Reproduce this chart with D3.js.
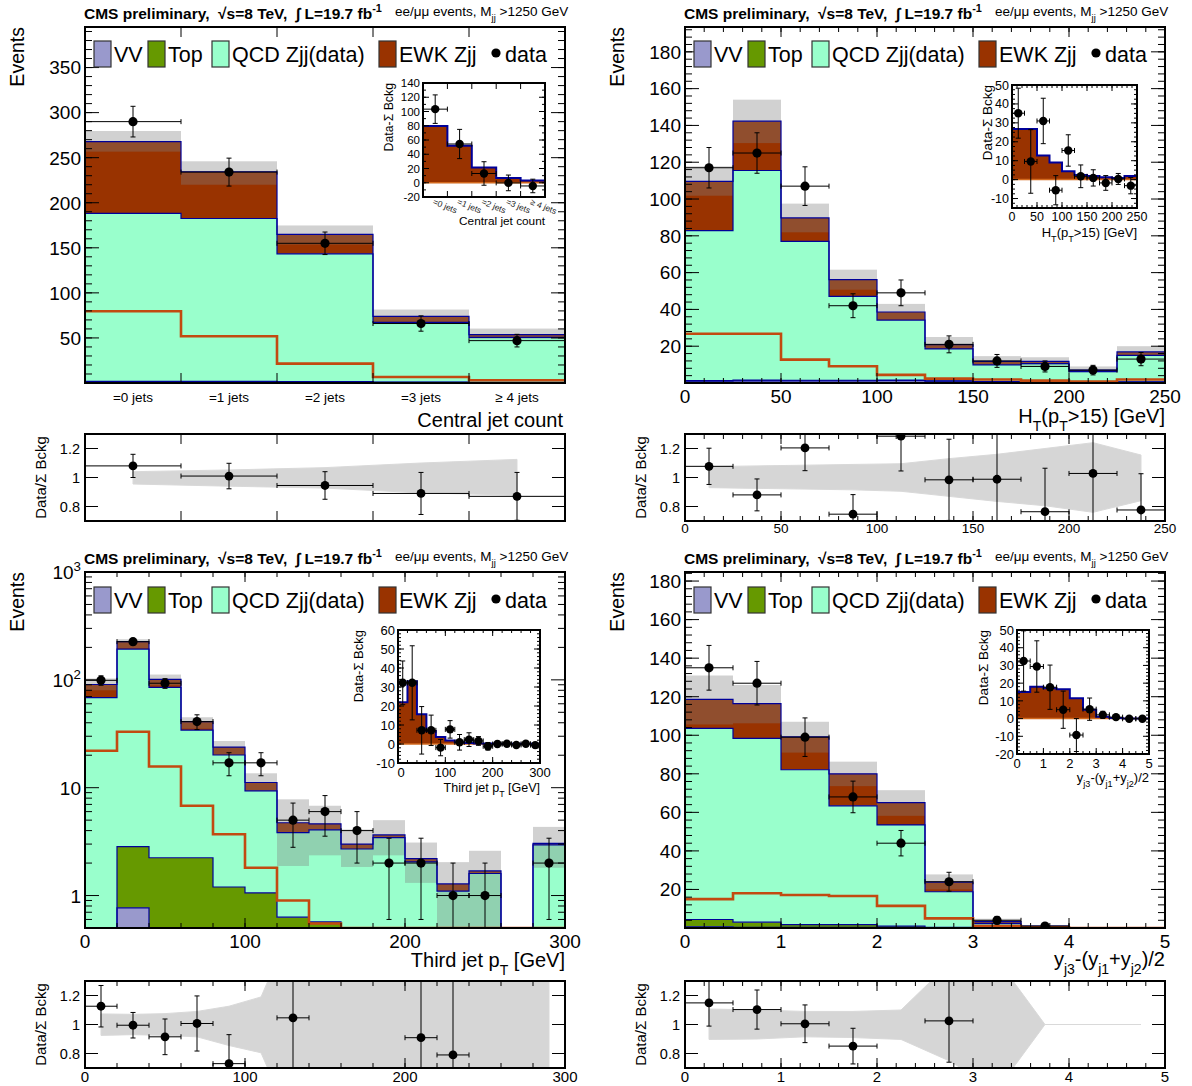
<!DOCTYPE html>
<html>
<head>
<meta charset="utf-8">
<title>EWK Zjj control distributions</title>
<script src="https://cdn.jsdelivr.net/npm/d3@7"></script>
<style>
  body { margin: 0; background: #fff; }
  svg text { font-family: "Liberation Sans", Arial, Helvetica, sans-serif; }
</style>
</head>
<body>
<div id="chart"></div>
<script>
// ---------- central jet count ----------
const jetCats = ["=0 jets", "=1 jets", "=2 jets", "=3 jets", "\u2265 4 jets"];
const jetEdges = [0, 1, 2, 3, 4, 5];
const jetVV = [1.5, 1.5, 1.2, 0.8, 0.5];
const jetTop = [0.3, 0.3, 0.3, 0.2, 0.1];
const jetQCD = [186.4, 180.7, 141.8, 66.3, 50.1];
const jetEWK = [79.6, 51.9, 21.5, 6.7, 3.0];
const jetBandLo = [256.7, 220, 153.7, 67.8, 48.5];
const jetBandHi = [279.6, 246, 174.8, 81.5, 60.4];
const jetData = [290, 234, 155, 66, 47];
const jetErr = [17, 15.5, 12.5, 8.5, 7];
const jetDiff = [103.3, 54.4, 13, -0.2, -4.5];
const jetDiffErr = [20, 20.5, 16.5, 11, 9.5];
const jetRatio = [1.08, 1.01, 0.945, 0.89, 0.87];
const jetRatioErr = [0.08, 0.088, 0.095, 0.145, 0.165];
const jetRatioLo = [0.955, 0.94, 0.927, 0.894, 0.878];
const jetRatioHi = [1.04, 1.052, 1.068, 1.10, 1.125];

// ---------- HT(pT>15) ----------
const htEdges = [0, 25, 50, 75, 100, 125, 150, 175, 200, 225, 250];
const htVV = [1.0, 1.2, 1.2, 1.2, 1.3, 1.0, 0.6, 0.5, 0.3, 0.5];
const htTop = [0.3, 0.4, 0.3, 0.3, 0.3, 0.2, 0.1, 0.1, 0.1, 0.1];
const htQCD = [81.5, 113.9, 75.5, 45.6, 32.6, 17.3, 9.2, 9.9, 5.8, 14.4];
const htEWK = [26.8, 26.8, 12.7, 9.1, 4.4, 2.4, 1.9, 1.3, 0.8, 1.9];
const htBandLo = [101.8, 130.4, 81.9, 50.7, 34.4, 18.5, 10, 9.5, 5.8, 14.6];
const htBandHi = [117.8, 154, 97.5, 61.6, 43, 25, 14.6, 14, 9, 20];
const htData = [117, 125, 107, 42, 49, 21, 12, 9, 7, 13];
const htErr = [11, 11, 10.5, 6.5, 7, 4.6, 3.5, 3, 2.6, 3.6];
const htDiff = [35.1, 9.6, 31, -5.6, 15.4, 1.75, 0.9, -1.75, 0.35, -3.2];
const htDiffErr = [13.2, 16.8, 12, 7.7, 8.3, 6, 4.3, 3.9, 2.9, 4.3];
const htRatio = [1.077, 0.88, 1.204, 0.747, 1.285, 0.984, 0.988, 0.764, 1.028, 0.776];
const htRatioErr = [0.125, 0.11, 0.157, 0.135, 0.24, 0.28, 0.34, 0.3, 0.36, 0.25];
const htRatioLo = [0.93, 0.925, 0.92, 0.915, 0.905, 0.87, 0.835, 0.805, 0.76, 0.84];
const htRatioHi = [1.075, 1.08, 1.085, 1.09, 1.095, 1.13, 1.16, 1.2, 1.24, 1.155];

// ---------- third jet pT ----------
const ptEdges = [0, 20, 40, 60, 80, 100, 120, 140, 160, 180, 200, 220, 240, 260, 280, 300];
const ptVV = [0, 0.77, 0, 0, 0, 0, 0, 0, 0, 0, 0, 0, 0, 0, 0];
const ptTop = [0.3, 2.07, 2.24, 2.24, 1.2, 1.06, 0.63, 0.57, 0.1, 0, 0, 0, 0, 0, 0];
const ptQCD = [68.2, 190, 83, 32, 18.9, 8.3, 3.2, 3.5, 2.6, 3.45, 2.05, 1.1, 1.6, 0, 2.95];
const ptEWK = [22, 33, 15.7, 6.8, 3.7, 1.81, 0.9, 0.55, 0.3, 0.2, 0.15, 0.18, 0.09, 0, 0.1];
const ptBandLo = [80, 196, 89, 35.3, 20.1, 9.25, 1.88, 2.36, 1.84, 2.36, 1.31, 0.3, 0.3, null, 1.81];
const ptBandHi = [103, 238, 112, 45, 27.1, 13.6, 7.8, 6.8, 4.1, 5.0, 3.1, 2.04, 2.6, null, 4.33];
const ptData = [99, 226, 93, 41, 17, 17, 5, 6, 4, 2, 2, 1, 1, 0, 2];
const ptErr = [10, 15, 9.6, 6.4, 4.1, 4.1, 2.2, 2.45, 2, 1.4, 1.4, 1, 1, 0, 1.4];
const ptDiff = [32.2, 32.2, 7.2, 7.2, -1.9, 7.7, 0.9, 2.3, 1.6, -1.2, 0, 0.1, -0.5, 0.1, -0.6];
const ptDiffErr = [11.5, 19.5, 12.5, 8, 4.3, 4.6, 4.1, 3.6, 2.3, 2, 1.4, 1, 1, 0, 1.4];
const ptRatio = [1.126, 0.995, 0.915, 1.007, 0.73, 1.52, 1.046, 1.34, 1.36, 0.55, 0.909, 0.79, 0.59, null, 0.65];
const ptRatioErr = [0.143, 0.088, 0.123, 0.19, 0.2, 0.38, 0.5, 0.5, 0.6, 0.4, 0.65, 0.8, 0.6, null, 0.5];
const ptRatioLo = [0.925, 0.93, 0.925, 0.915, 0.855, 0.805, 0.3, 0.3, 0.3, 0.3, 0.3, 0.3, 0.3, 0.3, 0.3];
const ptRatioHi = [1.073, 1.07, 1.075, 1.09, 1.126, 1.19, 1.7, 1.7, 1.7, 1.7, 1.7, 1.7, 1.7, 1.7, 1.7];

// ---------- y_j3 - (y_j1+y_j2)/2 ----------
const dyEdges = [0, 0.5, 1, 1.5, 2, 2.5, 3, 3.5, 4, 4.5, 5];
const dyVV = [0.6, 0.4, 0.3, 0.3, 0.2, 0.1, 0, 0, 0, 0];
const dyTop = [3.8, 2.6, 1.5, 1.5, 0.8, 0.2, 0.1, 0, 0, 0];
const dyQCD = [99.2, 95.4, 80.3, 61.6, 52.5, 18.5, 2.2, 0.7, 0, 0];
const dyEWK = [15, 18, 17.1, 16.6, 11.5, 5.0, 1.0, 0.3, 0, 0];
const dyBandLo = [105.6, 106.2, 91, 73.6, 58.2, 20, 2.3, 0.6, null, null];
const dyBandHi = [131, 126.1, 107, 86.3, 71.5, 27.8, 4.8, 1.4, null, null];
const dyData = [135, 127, 99, 68, 44, 24, 4, 1, 0, 0];
const dyErr = [11.6, 11.3, 10, 8.2, 6.6, 4.9, 2, 1, 0, 0];
const dyDiff = [32.5, 29.4, 17.7, 5, -9.3, 5.3, 2.1, 0.8, -0.1, -0.1];
const dyDiffErr = [17, 14.5, 12.5, 10.5, 9.3, 6.3, 2, 1, 0.3, 0.3];
const dyRatio = [1.149, 1.103, 1.005, 0.851, 0.68, 1.025, null, null, null, null];
const dyRatioErr = [0.16, 0.135, 0.13, 0.123, 0.1, 0.285, null, null, null, null];
const dyRatioLo = [0.897, 0.9, 0.915, 0.91, 0.897, 0.75, 0.55, 1, 1, 1];
const dyRatioHi = [1.107, 1.1, 1.09, 1.09, 1.1, 1.42, 1.45, 1, 1, 1];

// colours
const LAV = "#9999cc", GREEN = "#669900", MINT = "#99ffcc", BROWN = "#993300";
const NAVY = "#000099", EWKLINE = "#c24a10";

const svg = d3.select("#chart").append("svg")
  .attr("width", 1192).attr("height", 1086);
const defs = svg.append("defs");
let nclip = 0;

function clipRect(x0, y0, x1, y1) {
  const id = "clip" + (nclip++);
  defs.append("clipPath").attr("id", id).append("rect")
    .attr("x", x0).attr("y", y0).attr("width", x1 - x0).attr("height", y1 - y0);
  return "url(#" + id + ")";
}

// text with sub/superscripts
function rich(parent, x, y, segs, size, anchor) {
  const t = parent.append("text").attr("x", x).attr("y", y)
    .attr("font-size", size).attr("text-anchor", anchor || "start");
  let shift = 0;
  segs.forEach(s => {
    const sp = t.append("tspan").text(s.t);
    const target = s.sub ? size * 0.38 : s.sup ? -size * 0.42 : 0;
    if (target !== shift) { sp.attr("dy", target - shift); shift = target; }
    if (s.sub || s.sup) sp.attr("font-size", size * 0.7);
  });
  return t;
}

function frame(g, x0, y0, x1, y1) {
  g.append("rect").attr("x", x0).attr("y", y0).attr("width", x1 - x0).attr("height", y1 - y0)
    .attr("fill", "none").attr("stroke", "#000").attr("stroke-width", 2);
}

// inward ticks on all four sides
function ticks(g, x0, y0, x1, y1, xt, yt) {
  const segs = [];
  xt.forEach(([px, len]) => { segs.push([px, y1, px, y1 - len], [px, y0, px, y0 + len]); });
  yt.forEach(([py, len]) => { segs.push([x0, py, x0 + len, py], [x1, py, x1 - len, py]); });
  g.append("g").selectAll("line").data(segs).join("line")
    .attr("x1", d => d[0]).attr("y1", d => d[1]).attr("x2", d => d[2]).attr("y2", d => d[3])
    .attr("stroke", "#000").attr("stroke-width", 1);
}
const tk = (scale, vals, len, dom) => vals
  .filter(v => v > dom[0] + 1e-9 && v < dom[1] - 1e-9).map(v => [scale(v), len]);

function drawPoints(g, x, y, edges, vals, errs, r, keep) {
  const pts = vals.map((v, i) => ({v, e: errs[i], a: edges[i], b: edges[i + 1]}))
    .filter(d => d.v != null && keep(d.v));
  const segs = [];
  pts.forEach(d => {
    const cx = x((d.a + d.b) / 2), cy = y(d.v), ya = y(d.v + d.e), yb = y(d.v - d.e);
    const xa = x(d.a), xb = x(d.b);
    segs.push([xa, cy, xb, cy], [cx, ya, cx, yb],
      [cx - 2.5, ya, cx + 2.5, ya], [cx - 2.5, yb, cx + 2.5, yb],
      [xa, cy - 2.5, xa, cy + 2.5], [xb, cy - 2.5, xb, cy + 2.5]);
  });
  g.append("g").selectAll("line").data(segs).join("line")
    .attr("x1", d => d[0]).attr("y1", d => d[1]).attr("x2", d => d[2]).attr("y2", d => d[3])
    .attr("stroke", "#000").attr("stroke-width", 1);
  g.append("g").selectAll("circle").data(pts).join("circle")
    .attr("cx", d => x((d.a + d.b) / 2)).attr("cy", d => y(d.v)).attr("r", r).attr("fill", "#000");
}

function stepPts(edges, lo, hi) {
  const n = edges.length - 1;
  const pts = hi.map((h, i) => ({e: edges[i], lo: lo[i], hi: h}));
  pts.push({e: edges[n], lo: lo[n - 1], hi: hi[n - 1]});
  return pts;
}

function drawMain(p) {
  const x = d3.scaleLinear().domain(p.xDom).range([p.x0, p.x1]);
  const y = (p.log ? d3.scaleLog() : d3.scaleLinear()).domain(p.yDom).range([p.y1, p.y0]);
  const yc = v => y(Math.max(v, p.yDom[0]));
  const g = svg.append("g");
  const inner = g.append("g").attr("clip-path", clipRect(p.x0, p.y0, p.x1, p.y1));
  const n = p.edges.length - 1;
  const rows = d3.range(n).map(i => ({vv: p.vv[i], top: p.top[i], qcd: p.qcd[i], ewk: p.ewk[i]}));
  const series = d3.stack().keys(["vv", "top", "qcd", "ewk"])(rows);
  const fills = {vv: LAV, top: GREEN, qcd: MINT, ewk: BROWN};
  const area = d3.area().curve(d3.curveStepAfter).x(d => x(d.e)).y0(d => yc(d.lo)).y1(d => yc(d.hi));
  const line = d3.line().curve(d3.curveStepAfter).x(d => x(d.e)).y(d => yc(d.hi));
  const pts = s => stepPts(p.edges, s.map(d => d[0]), s.map(d => d[1]));

  inner.selectAll("path.layer").data(series).join("path").attr("class", "layer")
    .attr("d", s => area(pts(s))).attr("fill", s => fills[s.key]);

  // systematic band
  const band = p.lo.map((l, i) => ({i, l, h: p.hi[i]})).filter(d => d.l != null);
  inner.selectAll("rect.band").data(band).join("rect").attr("class", "band")
    .attr("x", d => x(p.edges[d.i])).attr("width", d => x(p.edges[d.i + 1]) - x(p.edges[d.i]))
    .attr("y", d => yc(d.h)).attr("height", d => yc(d.l) - yc(d.h))
    .attr("fill", "#808080").attr("fill-opacity", 0.36);

  inner.selectAll("path.outline").data(series).join("path").attr("class", "outline")
    .attr("d", s => line(pts(s))).attr("fill", "none").attr("stroke", NAVY).attr("stroke-width", 1.2);

  // EWK alone
  inner.append("path").attr("d", line(stepPts(p.edges, p.ewk, p.ewk)))
    .attr("fill", "none").attr("stroke", EWKLINE).attr("stroke-width", 2.6);

  drawPoints(inner, x, yc, p.edges, p.data, p.err, 4.6, v => v > 0);
  frame(g, p.x0, p.y0, p.x1, p.y1);
  return {g, x, y};
}

function drawRatio(p) {
  const x = d3.scaleLinear().domain(p.xDom).range([p.x0, p.x1]);
  const y = d3.scaleLinear().domain([0.7, 1.3]).range([p.y1, p.y0]);
  const g = svg.append("g");
  const inner = g.append("g").attr("clip-path", clipRect(p.x0, p.y0, p.x1, p.y1));
  const cen = p.lo.map((l, i) => ({c: (p.edges[i] + p.edges[i + 1]) / 2, l, h: p.hi[i]}));
  inner.append("path")
    .attr("d", d3.area().x(d => x(d.c)).y0(d => y(d.l)).y1(d => y(d.h))(cen))
    .attr("fill", "#d6d6d6").attr("stroke", "#d9d9d9").attr("stroke-width", 1);
  drawPoints(inner, x, y, p.edges, p.vals, p.errs, 4.4, v => v >= 0.7 && v <= 1.3);
  frame(g, p.x0, p.y0, p.x1, p.y1);
  ticks(g, p.x0, p.y0, p.x1, p.y1,
    p.xMaj.map(v => [x(v), 10]).concat((p.xMin || []).map(v => [x(v), 5])),
    [0.8, 1.0, 1.2].map(v => [y(v), 13]));
  g.selectAll("text.yl").data([0.8, 1.0, 1.2]).join("text").attr("class", "yl")
    .attr("x", p.x0 - 5).attr("y", v => y(v)).attr("dy", "0.36em").attr("text-anchor", "end")
    .attr("font-size", 14.5).text(v => d3.format("~g")(v));
  if (p.xLab) {
    g.selectAll("text.xl").data(p.xLab).join("text").attr("class", "xl")
      .attr("x", v => x(v)).attr("y", p.y1 + p.xLabDy).attr("text-anchor", "middle")
      .attr("font-size", p.xLabSize).text(v => v);
  }
  g.append("text").attr("transform", `translate(${p.x0 - 39},${(p.y0 + p.y1) / 2}) rotate(-90)`)
    .attr("text-anchor", "middle").attr("font-size", 15).text("Data/\u03A3 Bckg");
}

function drawInset(p) {
  const x = d3.scaleLinear().domain(p.xDom).range([p.x0, p.x1]);
  const y = d3.scaleLinear().domain(p.yDom).range([p.y1, p.y0]);
  const g = svg.append("g");
  g.append("rect").attr("x", p.x0).attr("y", p.y0).attr("width", p.x1 - p.x0).attr("height", p.y1 - p.y0)
    .attr("fill", "#fff");
  const inner = g.append("g").attr("clip-path", clipRect(p.x0, p.y0, p.x1, p.y1));
  const zeros = p.ewk.map(() => 0);
  const pts = stepPts(p.edges, zeros, p.ewk);
  inner.append("path")
    .attr("d", d3.area().curve(d3.curveStepAfter).x(d => x(d.e)).y0(d => y(d.lo)).y1(d => y(d.hi))(pts))
    .attr("fill", BROWN);
  inner.append("line").attr("x1", p.x0).attr("x2", p.x1).attr("y1", y(0)).attr("y2", y(0))
    .attr("stroke", "#d2691e").attr("stroke-width", 1.5);
  inner.append("path")
    .attr("d", d3.line().curve(d3.curveStepAfter).x(d => x(d.e)).y(d => y(d.hi))(pts))
    .attr("fill", "none").attr("stroke", NAVY).attr("stroke-width", 2);
  drawPoints(inner, x, y, p.edges, p.diff, p.derr, 4.2, () => true);
  frame(g, p.x0, p.y0, p.x1, p.y1);
  ticks(g, p.x0, p.y0, p.x1, p.y1,
    tk(x, p.xMaj, 6, p.xDom).concat(tk(x, p.xMin || [], 3, p.xDom)),
    tk(y, p.yMaj, 6, p.yDom).concat(tk(y, p.yMin || [], 3, p.yDom)));
  g.selectAll("text.yl").data(p.yLab).join("text").attr("class", "yl")
    .attr("x", p.x0 - 3).attr("y", v => y(v)).attr("dy", "0.36em").attr("text-anchor", "end")
    .attr("font-size", p.fs).text(v => v);
  if (p.cats) {
    g.selectAll("text.xl").data(p.cats).join("text").attr("class", "xl")
      .attr("transform", (c, i) => `translate(${x(i + 0.5) - 3},${p.y1 + 7}) rotate(22)`)
      .attr("font-size", 8.5).attr("fill", "#222").text(c => c);
  } else {
    g.selectAll("text.xl").data(p.xLab).join("text").attr("class", "xl")
      .attr("x", v => x(v) + (p.xLabShift ? p.xLabShift(v) : 0)).attr("y", p.y1 + p.xLabDy)
      .attr("text-anchor", "middle").attr("font-size", p.fs).text(v => v);
  }
  rich(g, p.x1, p.titleY, p.title, p.tfs, "end");
  g.append("text").attr("transform", `translate(${p.ytX},${p.y0}) rotate(-90)`)
    .attr("text-anchor", "end").attr("font-size", p.tfs + 0.5).text("Data-\u03A3 Bckg");
}

function header(x0, y0) {
  rich(svg, x0 - 1, y0 - 8,
    [{t: "CMS preliminary,  \u221As=8 TeV,  \u222B L=19.7 fb"}, {t: "-1", sup: true}], 15.5, "start")
    .attr("font-weight", "bold").style("white-space", "pre");
  rich(svg, x0 + 310, y0 - 11,
    [{t: "ee/\u03BC\u03BC events, M"}, {t: "jj", sub: true}, {t: " >1250 GeV"}], 13.5, "start");
  svg.append("text").attr("transform", `translate(${x0 - 61},${y0}) rotate(-90)`)
    .attr("text-anchor", "end").attr("font-size", 19.5).text("Events");
}

function legend(x0, cy) {
  const g = svg.append("g");
  const items = [
    {dx: 9, c: LAV, t: "VV"}, {dx: 63, c: GREEN, t: "Top"},
    {dx: 127, c: MINT, t: "QCD Zjj(data)"}, {dx: 294, c: BROWN, t: "EWK Zjj"}];
  g.selectAll("rect").data(items).join("rect")
    .attr("x", d => x0 + d.dx).attr("y", cy - 13).attr("width", 17).attr("height", 26)
    .attr("fill", d => d.c).attr("stroke", "#333").attr("stroke-width", 1.2);
  g.selectAll("text").data(items.concat([{dx: 400, t: "data"}])).join("text")
    .attr("x", d => x0 + d.dx + 20).attr("y", cy).attr("dy", "0.36em")
    .attr("font-size", 21.5).text(d => d.t);
  g.append("circle").attr("cx", x0 + 411).attr("cy", cy - 1).attr("r", 4.6).attr("fill", "#000");
}

const L0 = 85, L1 = 565, R0 = 685, R1 = 1165;
const T0 = 27, T1 = 383, TR0 = 434, TR1 = 521;
const B0 = 572, B1 = 928, BR0 = 981, BR1 = 1068;

// ================= top-left: central jet count =================
{
  const m = drawMain({x0: L0, x1: L1, y0: T0, y1: T1, xDom: [0, 5], yDom: [0, 395],
    edges: jetEdges, vv: jetVV, top: jetTop, qcd: jetQCD, ewk: jetEWK,
    lo: jetBandLo, hi: jetBandHi, data: jetData, err: jetErr});
  ticks(m.g, L0, T0, L1, T1, [1, 2, 3, 4].map(v => [m.x(v), 10]),
    tk(m.y, d3.range(50, 400, 50), 14, [0, 395]).concat(tk(m.y, d3.range(10, 400, 10), 7, [0, 395])));
  m.g.selectAll("text.yl").data(d3.range(50, 400, 50)).join("text").attr("class", "yl")
    .attr("x", L0 - 4).attr("y", v => m.y(v)).attr("dy", "0.36em").attr("text-anchor", "end")
    .attr("font-size", 19).text(v => v);
  m.g.selectAll("text.xl").data(jetCats).join("text").attr("class", "xl")
    .attr("x", (c, i) => m.x(i + 0.5)).attr("y", T1 + 19).attr("text-anchor", "middle")
    .attr("font-size", 13.5).text(c => c);
  rich(m.g, L1 - 2, T1 + 44, [{t: "Central jet count"}], 20, "end");
  header(L0, T0);
  legend(L0, 54);
  drawInset({x0: 423, x1: 545, y0: 83, y1: 197, xDom: [0, 5], yDom: [-20, 140],
    edges: jetEdges, ewk: jetEWK, diff: jetDiff, derr: jetDiffErr,
    xMaj: [1, 2, 3, 4], yMaj: d3.range(-20, 141, 20), yMin: d3.range(-20, 141, 10),
    yLab: d3.range(-20, 141, 20), fs: 11.5, cats: jetCats,
    title: [{t: "Central jet count"}], titleY: 225, tfs: 11.8, ytX: 393});
  drawRatio({x0: L0, x1: L1, y0: TR0, y1: TR1, xDom: [0, 5], edges: jetEdges,
    lo: jetRatioLo, hi: jetRatioHi, vals: jetRatio, errs: jetRatioErr, xMaj: [1, 2, 3, 4]});
}

// ================= top-right: HT =================
{
  const m = drawMain({x0: R0, x1: R1, y0: T0, y1: T1, xDom: [0, 250], yDom: [0, 193.5],
    edges: htEdges, vv: htVV, top: htTop, qcd: htQCD, ewk: htEWK,
    lo: htBandLo, hi: htBandHi, data: htData, err: htErr});
  ticks(m.g, R0, T0, R1, T1,
    tk(m.x, d3.range(0, 251, 50), 10, [0, 250]).concat(tk(m.x, d3.range(0, 251, 10), 5, [0, 250])),
    tk(m.y, d3.range(20, 200, 20), 14, [0, 193.5]).concat(tk(m.y, d3.range(4, 200, 4), 7, [0, 193.5])));
  m.g.selectAll("text.yl").data(d3.range(20, 181, 20)).join("text").attr("class", "yl")
    .attr("x", R0 - 4).attr("y", v => m.y(v)).attr("dy", "0.36em").attr("text-anchor", "end")
    .attr("font-size", 19).text(v => v);
  m.g.selectAll("text.xl").data(d3.range(0, 251, 50)).join("text").attr("class", "xl")
    .attr("x", v => m.x(v)).attr("y", T1 + 20).attr("text-anchor", "middle")
    .attr("font-size", 19).text(v => v);
  rich(m.g, R1, T1 + 40, [{t: "H"}, {t: "T", sub: true}, {t: "(p"}, {t: "T", sub: true}, {t: ">15) [GeV]"}], 20, "end");
  header(R0, T0);
  legend(R0, 54);
  drawInset({x0: 1012, x1: 1137, y0: 85, y1: 208, xDom: [0, 250], yDom: [-15, 50],
    edges: htEdges, ewk: htEWK, diff: htDiff, derr: htDiffErr,
    xMaj: d3.range(0, 251, 50), xMin: d3.range(0, 251, 10),
    yMaj: d3.range(-10, 51, 10), yMin: d3.range(-15, 51, 2.5),
    yLab: d3.range(-10, 51, 10), xLab: d3.range(0, 251, 50), xLabDy: 13, fs: 12.5,
    title: [{t: "H"}, {t: "T", sub: true}, {t: "(p"}, {t: "T", sub: true}, {t: ">15) [GeV]"}],
    titleY: 237, tfs: 13, ytX: 992});
  drawRatio({x0: R0, x1: R1, y0: TR0, y1: TR1, xDom: [0, 250], edges: htEdges,
    lo: htRatioLo, hi: htRatioHi, vals: htRatio, errs: htRatioErr,
    xMaj: [50, 100, 150, 200], xMin: d3.range(10, 250, 10),
    xLab: d3.range(0, 251, 50), xLabDy: 12, xLabSize: 13.5});
}

// ================= bottom-left: third jet pT (log) =================
{
  const m = drawMain({x0: L0, x1: L1, y0: B0, y1: B1, xDom: [0, 300], yDom: [0.5, 1000], log: true,
    edges: ptEdges, vv: ptVV, top: ptTop, qcd: ptQCD, ewk: ptEWK,
    lo: ptBandLo, hi: ptBandHi, data: ptData, err: ptErr});
  const minorLog = [0.6, 0.7, 0.8, 0.9].concat(...[1, 10, 100].map(d => d3.range(2, 10).map(k => k * d)));
  ticks(m.g, L0, B0, L1, B1,
    tk(m.x, [100, 200], 10, [0, 300]).concat(tk(m.x, d3.range(20, 300, 20), 5, [0, 300])),
    tk(m.y, [1, 10, 100], 14, [0.5, 1000]).concat(tk(m.y, minorLog, 7, [0.5, 1000])));
  const logLab = [{v: 1, b: "1"}, {v: 10, b: "10"}, {v: 100, b: "10", s: "2"}, {v: 1000, b: "10", s: "3"}];
  logLab.forEach(d => {
    const segs = [{t: d.b}];
    if (d.s) segs.push({t: d.s, sup: true});
    rich(m.g, L0 - 4, m.y(d.v) + 7, segs, 19, "end");
  });
  m.g.selectAll("text.xl").data([0, 100, 200, 300]).join("text").attr("class", "xl")
    .attr("x", v => m.x(v)).attr("y", B1 + 20).attr("text-anchor", "middle")
    .attr("font-size", 19).text(v => v);
  rich(m.g, L1, B1 + 39, [{t: "Third jet p"}, {t: "T", sub: true}, {t: " [GeV]"}], 20, "end");
  header(L0, B0);
  legend(L0, 600);
  drawInset({x0: 398, x1: 540, y0: 630, y1: 763, xDom: [0, 300], yDom: [-10, 60],
    edges: ptEdges, ewk: ptEWK, diff: ptDiff, derr: ptDiffErr,
    xMaj: [0, 100, 200, 300], xMin: d3.range(0, 301, 20),
    yMaj: d3.range(-10, 61, 10), yMin: d3.range(-10, 61, 2),
    yLab: d3.range(-10, 61, 10), xLab: [0, 100, 200, 300], xLabDy: 14, fs: 13,
    xLabShift: v => (v === 0 ? 3 : 0),
    title: [{t: "Third jet p"}, {t: "T", sub: true}, {t: " [GeV]"}],
    titleY: 792, tfs: 12.5, ytX: 363});
  drawRatio({x0: L0, x1: L1, y0: BR0, y1: BR1, xDom: [0, 300], edges: ptEdges,
    lo: ptRatioLo, hi: ptRatioHi, vals: ptRatio, errs: ptRatioErr,
    xMaj: [100, 200], xMin: d3.range(20, 300, 20),
    xLab: [0, 100, 200, 300], xLabDy: 14, xLabSize: 15});
}

// ================= bottom-right: rapidity of third jet =================
{
  const m = drawMain({x0: R0, x1: R1, y0: B0, y1: B1, xDom: [0, 5], yDom: [0, 184.7],
    edges: dyEdges, vv: dyVV, top: dyTop, qcd: dyQCD, ewk: dyEWK,
    lo: dyBandLo, hi: dyBandHi, data: dyData, err: dyErr});
  ticks(m.g, R0, B0, R1, B1,
    tk(m.x, [1, 2, 3, 4], 10, [0, 5]).concat(tk(m.x, d3.range(0, 5.01, 0.2), 5, [0, 5])),
    tk(m.y, d3.range(20, 190, 20), 14, [0, 184.7]).concat(tk(m.y, d3.range(4, 190, 4), 7, [0, 184.7])));
  m.g.selectAll("text.yl").data(d3.range(20, 181, 20)).join("text").attr("class", "yl")
    .attr("x", R0 - 4).attr("y", v => m.y(v)).attr("dy", "0.36em").attr("text-anchor", "end")
    .attr("font-size", 19).text(v => v);
  m.g.selectAll("text.xl").data([0, 1, 2, 3, 4, 5]).join("text").attr("class", "xl")
    .attr("x", v => m.x(v)).attr("y", B1 + 20).attr("text-anchor", "middle")
    .attr("font-size", 19).text(v => v);
  rich(m.g, R1, B1 + 38, [{t: "y"}, {t: "j3", sub: true}, {t: "-(y"}, {t: "j1", sub: true},
    {t: "+y"}, {t: "j2", sub: true}, {t: ")/2"}], 20, "end");
  header(R0, B0);
  legend(R0, 600);
  drawInset({x0: 1017, x1: 1149, y0: 630, y1: 754, xDom: [0, 5], yDom: [-20, 50],
    edges: dyEdges, ewk: dyEWK, diff: dyDiff, derr: dyDiffErr,
    xMaj: [0, 1, 2, 3, 4, 5], xMin: d3.range(0, 5.01, 0.25),
    yMaj: d3.range(-20, 51, 10), yMin: d3.range(-20, 51, 2),
    yLab: d3.range(-20, 51, 10), xLab: [0, 1, 2, 3, 4, 5], xLabDy: 14, fs: 13,
    title: [{t: "y"}, {t: "j3", sub: true}, {t: "-(y"}, {t: "j1", sub: true},
      {t: "+y"}, {t: "j2", sub: true}, {t: ")/2"}],
    titleY: 782, tfs: 13, ytX: 988});
  drawRatio({x0: R0, x1: R1, y0: BR0, y1: BR1, xDom: [0, 5], edges: dyEdges,
    lo: dyRatioLo, hi: dyRatioHi, vals: dyRatio, errs: dyRatioErr,
    xMaj: [1, 2, 3, 4], xMin: d3.range(0.2, 5, 0.2),
    xLab: [0, 1, 2, 3, 4, 5], xLabDy: 14, xLabSize: 15});
}
</script>
</body>
</html>
